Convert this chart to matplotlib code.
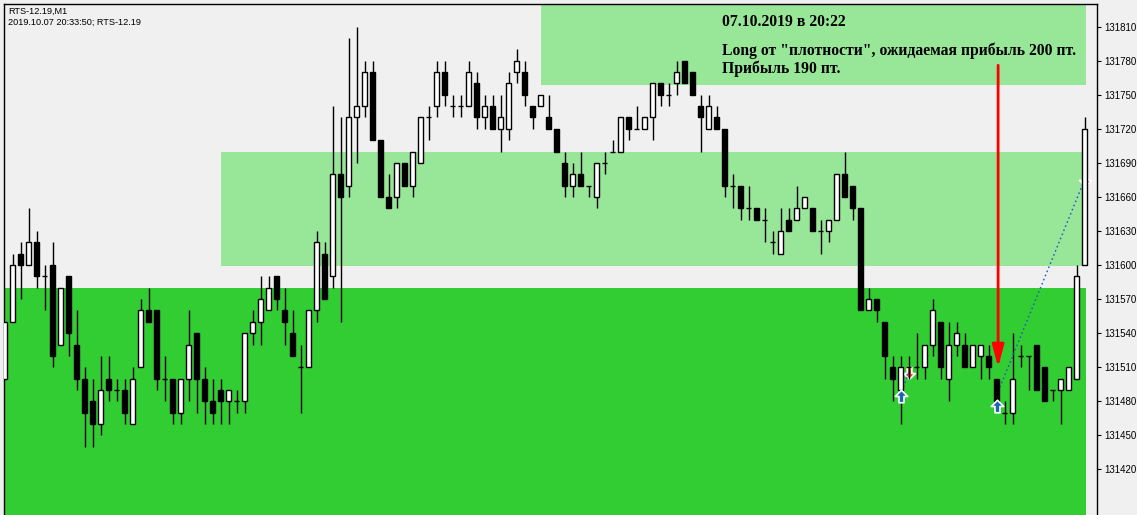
import matplotlib
matplotlib.use("Agg")
import matplotlib.pyplot as plt
from matplotlib.patches import Rectangle
from matplotlib.path import Path

# ---------------- data ----------------
opens = [131500, 131550, 131610, 131600, 131620, 131590, 131600, 131530, 131590, 131530,
         131500, 131480, 131460, 131500, 131490, 131490, 131460, 131510, 131560, 131560,
         131500, 131500, 131470, 131500, 131540, 131500, 131480, 131490, 131480, 131480,
         131480, 131540, 131550, 131560, 131590, 131560, 131540, 131510, 131510, 131560,
         131610, 131590, 131680, 131670, 131730, 131740, 131770, 131710, 131660, 131660,
         131690, 131670, 131690, 131730, 131740, 131770, 131740, 131740, 131740, 131760,
         131730, 131740, 131720, 131720, 131770, 131770, 131740, 131740, 131730, 131720,
         131690, 131670, 131680, 131670, 131660, 131690, 131700, 131700, 131730, 131720,
         131720, 131730, 131760, 131750, 131760, 131780, 131770, 131740, 131720, 131730,
         131720, 131670, 131670, 131650, 131650, 131640, 131620, 131610, 131640, 131640,
         131650, 131650, 131630, 131630, 131640, 131680, 131670, 131650, 131560, 131570,
         131550, 131510, 131490, 131510, 131510, 131510, 131530, 131550, 131500, 131530,
         131530, 131510, 131520, 131520, 131500, 131470, 131470, 131520, 131520, 131530,
         131510, 131490, 131490, 131490, 131500, 131600]
highs = [131550, 131610, 131620, 131650, 131630, 131600, 131620, 131580, 131590, 131560,
         131510, 131500, 131520, 131520, 131500, 131500, 131510, 131570, 131580, 131560,
         131520, 131500, 131500, 131560, 131540, 131510, 131500, 131500, 131490, 131490,
         131540, 131560, 131590, 131590, 131590, 131580, 131560, 131530, 131560, 131630,
         131620, 131740, 131730, 131800, 131810, 131780, 131780, 131710, 131680, 131690,
         131690, 131700, 131730, 131740, 131780, 131780, 131750, 131750, 131780, 131770,
         131750, 131750, 131750, 131770, 131790, 131780, 131740, 131750, 131750, 131720,
         131700, 131690, 131700, 131670, 131690, 131700, 131710, 131730, 131730, 131740,
         131730, 131760, 131760, 131760, 131780, 131780, 131770, 131750, 131750, 131740,
         131720, 131680, 131670, 131670, 131650, 131650, 131630, 131650, 131650, 131670,
         131660, 131650, 131640, 131640, 131680, 131700, 131670, 131650, 131580, 131570,
         131550, 131520, 131520, 131520, 131540, 131530, 131570, 131550, 131550, 131550,
         131540, 131530, 131530, 131530, 131500, 131480, 131540, 131530, 131520, 131530,
         131510, 131490, 131500, 131510, 131600, 131730]
lows = [131500, 131550, 131570, 131600, 131580, 131560, 131510, 131530, 131520, 131490,
        131440, 131440, 131450, 131480, 131480, 131460, 131460, 131510, 131550, 131490,
        131480, 131460, 131460, 131480, 131470, 131460, 131460, 131460, 131460, 131470,
        131470, 131530, 131530, 131560, 131560, 131530, 131520, 131470, 131510, 131550,
        131570, 131580, 131550, 131660, 131690, 131730, 131710, 131660, 131650, 131650,
        131670, 131660, 131690, 131710, 131730, 131740, 131730, 131730, 131740, 131720,
        131720, 131720, 131700, 131710, 131760, 131740, 131720, 131740, 131720, 131700,
        131660, 131660, 131670, 131660, 131650, 131680, 131700, 131700, 131710, 131720,
        131720, 131710, 131740, 131740, 131750, 131760, 131750, 131700, 131720, 131720,
        131660, 131650, 131640, 131640, 131640, 131620, 131610, 131610, 131630, 131640,
        131650, 131630, 131610, 131620, 131640, 131660, 131640, 131560, 131560, 131550,
        131500, 131480, 131460, 131500, 131500, 131500, 131520, 131500, 131480, 131520,
        131510, 131510, 131500, 131500, 131480, 131460, 131460, 131510, 131490, 131490,
        131480, 131480, 131460, 131490, 131500, 131600]
closes = [131550, 131600, 131600, 131620, 131590, 131590, 131520, 131580, 131540, 131500,
          131470, 131460, 131490, 131490, 131490, 131470, 131500, 131560, 131550, 131500,
          131500, 131470, 131500, 131530, 131500, 131480, 131470, 131480, 131490, 131480,
          131540, 131550, 131570, 131580, 131570, 131550, 131520, 131510, 131560, 131620,
          131570, 131680, 131660, 131730, 131740, 131770, 131710, 131660, 131650, 131690,
          131670, 131700, 131730, 131730, 131770, 131750, 131740, 131740, 131770, 131730,
          131740, 131720, 131730, 131760, 131780, 131750, 131730, 131750, 131720, 131700,
          131670, 131680, 131670, 131670, 131690, 131690, 131700, 131730, 131720, 131720,
          131730, 131760, 131750, 131750, 131770, 131760, 131750, 131730, 131740, 131720,
          131670, 131670, 131650, 131650, 131640, 131640, 131620, 131630, 131630, 131650,
          131660, 131630, 131630, 131640, 131680, 131660, 131650, 131560, 131570, 131560,
          131520, 131500, 131510, 131510, 131510, 131530, 131560, 131510, 131530, 131540,
          131510, 131530, 131530, 131510, 131480, 131470, 131500, 131520, 131520, 131490,
          131480, 131490, 131500, 131510, 131590, 131720]

# zones: (x start, x end, price low, price high, colour)
zone_x0 = [-1.0, 27.06, 67.06]
zone_x1 = [135.19, 135.19, 135.19]
zone_lo = [131300, 131599, 131759]
zone_hi = [131580, 131700, 131900]
zone_colors = ["#32CD32", "#98E698", "#98E698"]

# trades
entry_idx = [112, 124]
entry_price = [131485, 131485]
entry_marker_price = [131485, 131476]
exit_idx = [113, 135]
exit_price = [131505, 131675]

# signal arrow
signal_idx = 124.2
signal_from = 131776
signal_to = 131510

yticks = list(range(131420, 131811, 30))
title_lines = ["RTS-12.19,M1", "2019.10.07 20:33:50; RTS-12.19"]
note_lines = ["07.10.2019 в 20:22",
              "Long от \"плотности\", ожидаемая прибыль 200 пт.",
              "Прибыль 190 пт."]

# ---------------- figure ----------------
W, H = 1137, 515
fig = plt.figure(figsize=(W / 100, H / 100), dpi=100, facecolor="#F0F0F0")
ax = fig.add_axes([4 / W, 0, 1093 / W, 511.5 / H])
ax.set_facecolor("#F0F0F0")
ax.set_xlim(-0.0625, 136.56)
ax.set_ylim(131379.8, 131830.4)

for x0, x1, lo, hi, c in zip(zone_x0, zone_x1, zone_lo, zone_hi, zone_colors):
    ax.add_patch(Rectangle((x0, lo), x1 - x0, hi - lo, facecolor=c,
                           edgecolor="none", zorder=0.5))

xs = list(range(len(opens)))
ax.vlines(xs, lows, highs, color="black", lw=1.0, zorder=2)
bottoms = [min(o, c) for o, c in zip(opens, closes)]
heights = [abs(c - o) for o, c in zip(opens, closes)]
fcols = ["white" if c > o else "black" for o, c in zip(opens, closes)]
ax.bar(xs, heights, bottom=bottoms, width=0.52, color=fcols,
       edgecolor="black", linewidth=1.0, zorder=3)

# markers
up_arrow = Path([(0, 1), (1, 0), (0.4, 0), (0.4, -1), (-0.4, -1), (-0.4, 0), (-1, 0), (0, 1)],
                [Path.MOVETO] + [Path.LINETO] * 6 + [Path.CLOSEPOLY])
down_arrow = Path([(0, -1), (1, 0), (0.4, 0), (0.4, 1), (-0.4, 1), (-0.4, 0), (-1, 0), (0, -1)],
                  [Path.MOVETO] + [Path.LINETO] * 6 + [Path.CLOSEPOLY])
for ei, ep, em, xi, xp in zip(entry_idx, entry_price, entry_marker_price, exit_idx, exit_price):
    ax.plot([ei, xi], [ep, xp], ls=(0, (1.2, 2)), color="#1E5AC8", lw=1.0, zorder=2.5)
    ax.plot(ei, em, marker=up_arrow, ms=9, color="#1E64B4", mec="white", mew=1.2, zorder=4)
    ax.plot(xi, xp, marker=down_arrow, ms=8.5, color="#E04020", mec="white", mew=1.2, zorder=1.5)

ax.annotate("", xy=(signal_idx, signal_to), xytext=(signal_idx, signal_from),
            arrowprops=dict(arrowstyle="-|>,head_length=1.35,head_width=0.36",
                            mutation_scale=10, color="#FF0000", lw=2.0,
                            shrinkA=0, shrinkB=0), zorder=5)

# axes styling
for s in ["left", "top", "right"]:
    ax.spines[s].set_color("black")
    ax.spines[s].set_linewidth(1.0)
ax.spines["bottom"].set_visible(False)
ax.set_xticks([])
ax.yaxis.tick_right()
ax.set_yticks(yticks)
ax.set_yticklabels([str(v) for v in yticks])
ax.tick_params(axis="y", direction="out", length=3, width=0.8, pad=2,
               labelsize=7, colors="black")
for lab in ax.get_yticklabels():
    lab.set_fontfamily("Liberation Sans")

fig.text(8 / W, 1 - 14 / H, title_lines[0], fontsize=6.6, family="Liberation Sans",
         va="baseline", ha="left")
fig.text(8 / W, 1 - 25 / H, title_lines[1], fontsize=6.6, family="Liberation Sans",
         va="baseline", ha="left")

for txt, base in zip(note_lines, [25.7, 55, 73.3]):
    fig.text(722 / W, 1 - base / H, txt, fontsize=11.3, family="Liberation Serif",
             weight="bold", va="baseline", ha="left")

fig.savefig("out.png", dpi=100, facecolor=fig.get_facecolor())
